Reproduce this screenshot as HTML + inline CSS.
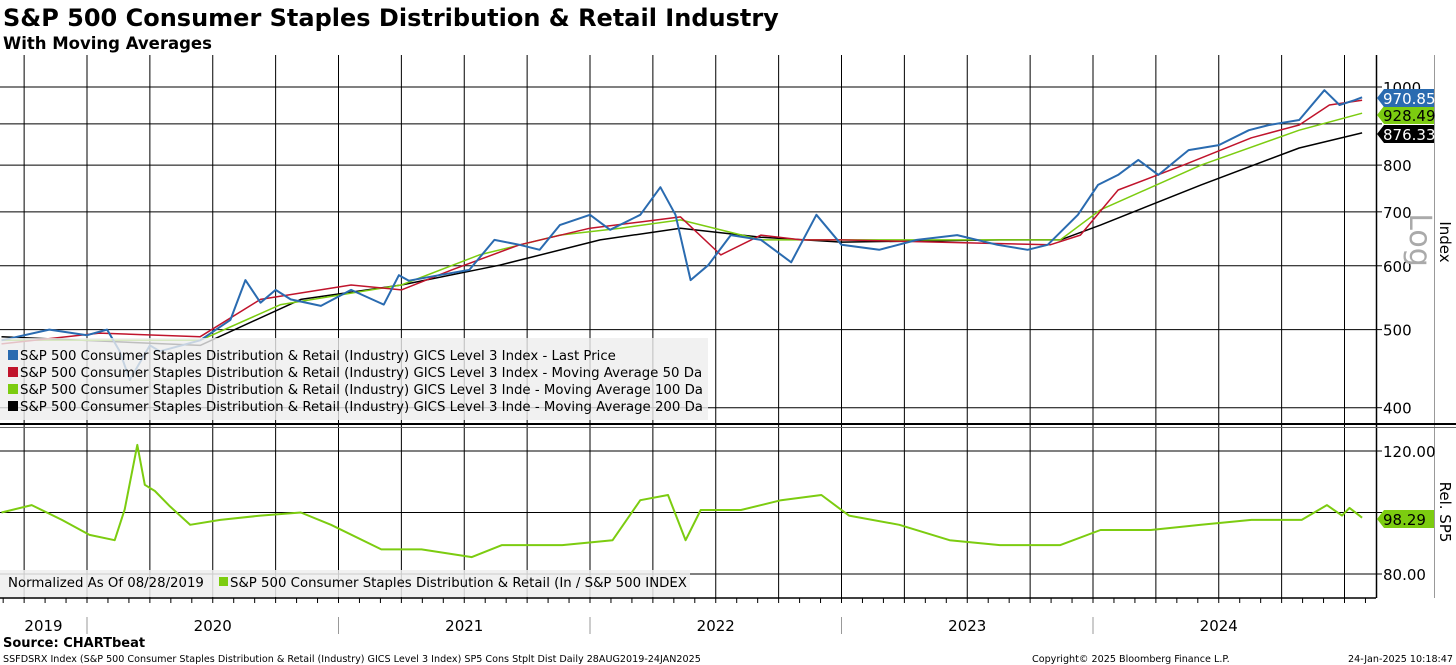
<!DOCTYPE html>
<html><head><meta charset="utf-8"><style>
body{margin:0;background:#fff;}
svg{display:block;font-family:"DejaVu Sans","Liberation Sans",sans-serif;}
</style></head><body>
<svg id="c" width="1456" height="665" viewBox="0 0 1456 665">
<text x="3" y="26" font-size="24" font-weight="bold">S&amp;P 500 Consumer Staples Distribution &amp; Retail Industry</text>
<text x="3" y="49" font-size="16.5" font-weight="bold">With Moving Averages</text>
<g id="grid"></g>
<g id="series"></g>
<g id="legend1">
<rect x="0" y="338" width="708" height="82" fill="#eeeeee" fill-opacity="0.8"/>
<rect x="8" y="350" width="10" height="10" fill="#2a6bb0"/>
<text x="20" y="360" font-size="13.3">S&amp;P 500 Consumer Staples Distribution &amp; Retail (Industry) GICS Level 3 Index - Last Price</text>
<rect x="8" y="367" width="10" height="10" fill="#c0142c"/>
<text x="20" y="377" font-size="13.3">S&amp;P 500 Consumer Staples Distribution &amp; Retail (Industry) GICS Level 3 Index - Moving Average 50 Da</text>
<rect x="8" y="384" width="10" height="10" fill="#7ccc10"/>
<text x="20" y="394" font-size="13.3">S&amp;P 500 Consumer Staples Distribution &amp; Retail (Industry) GICS Level 3 Inde - Moving Average 100 Da</text>
<rect x="8" y="401" width="10" height="10" fill="#000"/>
<text x="20" y="411" font-size="13.3">S&amp;P 500 Consumer Staples Distribution &amp; Retail (Industry) GICS Level 3 Inde - Moving Average 200 Da</text>
</g>
<g id="legend2">
<rect x="0" y="570" width="690" height="27" fill="#eeeeee" fill-opacity="0.85"/>
<text x="8" y="587" font-size="13.3">Normalized As Of 08/28/2019</text>
<rect x="219" y="577" width="9" height="9" fill="#7ccc10"/>
<text x="230" y="587" font-size="13.3">S&amp;P 500 Consumer Staples Distribution &amp; Retail (In / S&amp;P 500 INDEX</text>
</g>
<g id="labels"></g>
<text x="3" y="647" font-size="13" font-weight="bold">Source: CHARTbeat</text>
<text x="3" y="662" font-size="9.6">SSFDSRX Index (S&amp;P 500 Consumer Staples Distribution &amp; Retail (Industry) GICS Level 3 Index) SP5 Cons Stplt Dist  Daily 28AUG2019-24JAN2025</text>
<text x="1032" y="662" font-size="9.6">Copyright© 2025 Bloomberg Finance L.P.</text>
<text x="1453" y="662" font-size="9.6" text-anchor="end">24-Jan-2025 10:18:47</text>
</svg>
<script>
const NS="http://www.w3.org/2000/svg";
const years=["2019","2020","2021","2022","2023","2024"];
const priceTicks=[400,500,600,700,800,900,1000];
const priceTickLabels=["400","500","600","700","800","","1000"];
const relTicks=[80,100,120];
const relTickLabels=["80.00","","120.00"];
const priceT=[2019.66,2019.85,2020.0,2020.08,2020.13,2020.17,2020.21,2020.25,2020.29,2020.45,2020.57,2020.63,2020.69,2020.75,2020.81,2020.93,2021.05,2021.18,2021.24,2021.28,2021.4,2021.52,2021.62,2021.72,2021.8,2021.88,2022.0,2022.08,2022.2,2022.28,2022.34,2022.4,2022.47,2022.56,2022.68,2022.8,2022.9,2023.0,2023.15,2023.3,2023.46,2023.62,2023.74,2023.82,2023.94,2024.02,2024.1,2024.18,2024.26,2024.38,2024.5,2024.62,2024.7,2024.82,2024.92,2024.98,2025.04,2025.07];
const priceV=[485,500,492,500,470,433,455,478,470,485,514,576,540,560,545,535,560,537,584,575,584,593,646,637,628,674,694,665,694,751,694,576,601,655,646,606,694,637,628,646,655,637,628,637,694,756,778,812,778,835,847,884,897,910,991,950,963,971];
const ma50T=[2019.66,2020.05,2020.45,2020.69,2021.05,2021.25,2021.45,2021.72,2022.0,2022.2,2022.36,2022.52,2022.68,2022.84,2023.0,2023.83,2023.95,2024.1,2024.36,2024.63,2024.82,2024.94,2025.07];
const ma50V=[480,495,490,545,568,560,593,637,668,680,690,619,655,646,646,637,655,745,800,865,897,950,963];
const ma100T=[2019.66,2020.45,2020.77,2021.25,2021.56,2021.88,2022.12,2022.36,2022.68,2023.0,2023.87,2024.03,2024.43,2024.82,2025.07];
const ma100V=[485,485,537,568,619,655,668,684,646,646,646,704,800,884,928];
const ma200T=[2019.66,2020.45,2020.85,2021.25,2021.64,2022.04,2022.36,2022.68,2023.0,2023.63,2023.87,2024.03,2024.43,2024.82,2025.07];
const ma200V=[490,478,545,568,601,646,668,651,642,646,646,674,756,840,877];
const relT=[2019.66,2019.78,2019.9,2020.01,2020.11,2020.15,2020.2,2020.23,2020.27,2020.33,2020.41,2020.53,2020.69,2020.85,2020.97,2021.17,2021.33,2021.53,2021.65,2021.89,2022.09,2022.2,2022.31,2022.38,2022.44,2022.6,2022.76,2022.92,2023.03,2023.23,2023.43,2023.63,2023.87,2024.03,2024.23,2024.43,2024.63,2024.75,2024.83,2024.93,2024.99,2025.02,2025.07];
const relV=[100,102.4,97.6,92.7,91,101,122,109,107,102,96,97.6,99,100,96,88,88,85.5,89.4,89.4,91,104,105.7,91,100.8,100.8,104,105.7,99,96,91,89.4,89.4,94.3,94.3,96,97.6,97.6,97.6,102.4,99,101.5,98.3];

const tx=t=>87+(t-2020)*251.5;
const py=v=>87+350*Math.log(1000/v);
const ry=v=>512.5+(100-v)*3.075;
function mk(tag,attrs,parent){const e=document.createElementNS(NS,tag);for(const k in attrs)e.setAttribute(k,attrs[k]);parent.appendChild(e);return e;}
const grid=document.getElementById('grid'),ser=document.getElementById('series'),lab=document.getElementById('labels');
for(let q=-1;q<=20;q++){const x=tx(2020+q*0.25);if(x<0||x>1376)continue;
 const l=mk('line',{x1:x,y1:55,x2:x,y2:598,stroke:'#000','stroke-width':1},grid);
 
 }
for(let m=-4;m<=61;m++){const x=tx(2020+m/12);if(x<0||x>1376)continue;
 mk('line',{x1:x,y1:598,x2:x,y2:603,stroke:'#000','stroke-width':1},grid);}
priceTicks.forEach((v,i)=>{const y=py(v);
 const l=mk('line',{x1:0,y1:y,x2:1376,y2:y,stroke:'#000','stroke-width':1},grid);
 
 
 mk('line',{x1:1376,y1:y,x2:1382,y2:y,stroke:'#000'},grid);
 const t=mk('text',{x:1383,y:y+6,'font-size':15},lab);t.textContent=priceTickLabels[i];
 
 });
relTicks.forEach((v,i)=>{const y=ry(v);
 const l=mk('line',{x1:0,y1:y,x2:1376,y2:y,stroke:'#000','stroke-width':1},grid);
 
 
 mk('line',{x1:1376,y1:y,x2:1382,y2:y,stroke:'#000'},grid);
 const t=mk('text',{x:1383,y:y+6,'font-size':15},lab);t.textContent=relTickLabels[i];
 
 });
mk('line',{x1:1376.5,y1:55,x2:1376.5,y2:598,stroke:'#000','stroke-width':1.5},grid);
mk('line',{x1:1434.5,y1:55,x2:1434.5,y2:598,stroke:'#999'},grid);
mk('line',{x1:0,y1:424,x2:1456,y2:424,stroke:'#000','stroke-width':2},grid);
mk('line',{x1:0,y1:427.5,x2:1456,y2:427.5,stroke:'#666','stroke-width':1},grid);
mk('line',{x1:0,y1:598,x2:1376,y2:598,stroke:'#000','stroke-width':1.5},grid);
years.forEach((y,i)=>{const yr=2019+i;const a=Math.max(tx(yr),0),b=Math.min(tx(yr+1),1361);
 const t=mk('text',{x:(a+b)/2,y:631,'font-size':15,'text-anchor':'middle'},lab);t.textContent=y;
 
 
 if(i>0)mk('line',{x1:tx(yr),y1:617,x2:tx(yr),y2:634,stroke:'#999'},grid);});
function path(T,V,f,color,w,name){let d='';T.forEach((t,i)=>{d+=(i?'L':'M')+tx(t).toFixed(1)+','+f(V[i]).toFixed(1);});
 const p=mk('path',{d:d,fill:'none',stroke:color,'stroke-width':w,'stroke-linejoin':'round'},ser);
 
 }
path(ma200T,ma200V,py,'#000',1.5,'ma200-line');
path(ma100T,ma100V,py,'#7ccc10',1.5,'ma100-line');
path(ma50T,ma50V,py,'#c0142c',1.5,'ma50-line');
path(priceT,priceV,py,'#2a6bb0',2,'price-line');
path(relT,relV,ry,'#7ccc10',2,'relative-line');
function tag(v,y,bg,fg,name){const g=mk('g',{},lab);
 
 
 mk('path',{d:`M1377,${y} L1384,${y-9} L1434,${y-9} L1434,${y+9} L1384,${y+9} Z`,fill:bg},g);
 const t=mk('text',{x:1383,y:y+6,'font-size':15,fill:fg},g);t.textContent=v;}
tag('928.49',115,'#7ccc10','#000','ma100-value-tag');
tag('876.33',134,'#000','#fff','ma200-value-tag');
tag('970.85',98,'#2a6bb0','#fff','price-value-tag');
tag('98.29',519,'#7ccc10','#000','relative-value-tag');
const lg=mk('text',{x:1410,y:240,'font-size':30,fill:'#aaa','text-anchor':'middle',transform:'rotate(90 1410 240)'},lab);lg.textContent='Log';


const ix=mk('text',{x:1440,y:242,'font-size':15,'text-anchor':'middle',transform:'rotate(90 1440 242)'},lab);ix.textContent='Index';


const rs=mk('text',{x:1440,y:512,'font-size':15,'text-anchor':'middle',transform:'rotate(90 1440 512)'},lab);rs.textContent='Rel. SP5';


</script>
</body></html>
